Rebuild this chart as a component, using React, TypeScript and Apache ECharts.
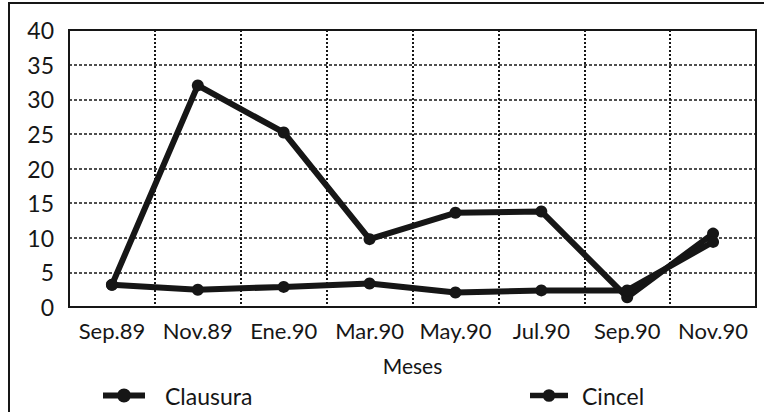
import React, { useEffect, useRef } from "react";
import * as echarts from "echarts";

const categories = ["Sep.89", "Nov.89", "Ene.90", "Mar.90", "May.90", "Jul.90", "Sep.90", "Nov.90"];
const clausura = [3.2, 2.5, 2.9, 3.4, 2.1, 2.4, 2.4, 9.4];
const cincel = [3.2, 32, 25.2, 9.8, 13.6, 13.8, 1.4, 10.6];
const yMin = 0;
const yMax = 40;
const yStep = 5;

const FONT = "Lato";
const INK = "#161616";
const LEGEND_ICON = "path://M0,4 H42 V10 H0 Z M21,0 A7,7 0 1 1 21,14 A7,7 0 1 1 21,0 Z";

export default function App() {
  const ref = useRef<HTMLDivElement>(null);
  useEffect(() => {
    if (!ref.current) return;
    const chart = echarts.init(ref.current, null, { renderer: "svg" });
    const seriesStyle = (name: string, data: number[]) => ({
      name,
      type: "line",
      data,
      symbol: "circle",
      symbolSize: 12,
      lineStyle: { color: INK, width: 6 },
      itemStyle: { color: INK },
      z: name === "Cincel" ? 3 : 4,
    });
    const legendText = { fontFamily: FONT, fontSize: 23, lineHeight: 22, color: INK };
    chart.setOption({
      animation: false,
      backgroundColor: "#ffffff",
      textStyle: { fontFamily: FONT, color: INK },
      grid: {
        left: 69,
        right: 8,
        top: 30,
        bottom: 105,
        show: true,
        borderColor: INK,
        borderWidth: 2,
        backgroundColor: "transparent",
      },
      legend: [
        {
          data: [{ name: "Clausura", icon: LEGEND_ICON }],
          left: 103,
          top: 384,
          padding: 0,
          itemWidth: 42,
          itemHeight: 14,
          itemStyle: { color: INK },
          textStyle: { ...legendText, padding: [0, 0, 0, 15] },
        },
        {
          data: [{ name: "Cincel", icon: LEGEND_ICON }],
          left: 530,
          top: 384,
          padding: 0,
          itemWidth: 38,
          itemHeight: 13,
          itemStyle: { color: INK },
          textStyle: { ...legendText, padding: [0, 0, 0, 9] },
        },
      ],
      xAxis: {
        type: "category",
        data: categories,
        boundaryGap: true,
        name: "Meses",
        nameLocation: "middle",
        nameGap: 48,
        nameTextStyle: { fontFamily: FONT, fontSize: 21, color: INK },
        axisLine: { show: true, lineStyle: { color: INK, width: 2 } },
        axisTick: { show: false },
        axisLabel: { fontFamily: FONT, fontSize: 22, color: INK, margin: 12, interval: 0 },
        splitLine: { show: true, interval: 0, lineStyle: { color: INK, width: 2, type: [2, 2] } },
      },
      yAxis: {
        type: "value",
        min: yMin,
        max: yMax,
        interval: yStep,
        axisLine: { show: true, lineStyle: { color: INK, width: 2 } },
        axisTick: { show: false },
        axisLabel: { fontFamily: FONT, fontSize: 23, color: INK, margin: 15 },
        splitLine: { show: true, lineStyle: { color: INK, width: 1.5, type: [3, 2] } },
      },
      graphic: [
        {
          type: "rect",
          z: 100,
          shape: { x: 9, y: 3, width: 800, height: 500 },
          style: { fill: "none", stroke: INK, lineWidth: 2 },
        },
      ],
      series: [seriesStyle("Clausura", clausura), seriesStyle("Cincel", cincel)],
    });
    return () => chart.dispose();
  }, []);
  return (
    <div
      ref={ref}
      style={{ position: "fixed", left: 0, top: 0, width: 764, height: 412, background: "#fff" }}
    />
  );
}
